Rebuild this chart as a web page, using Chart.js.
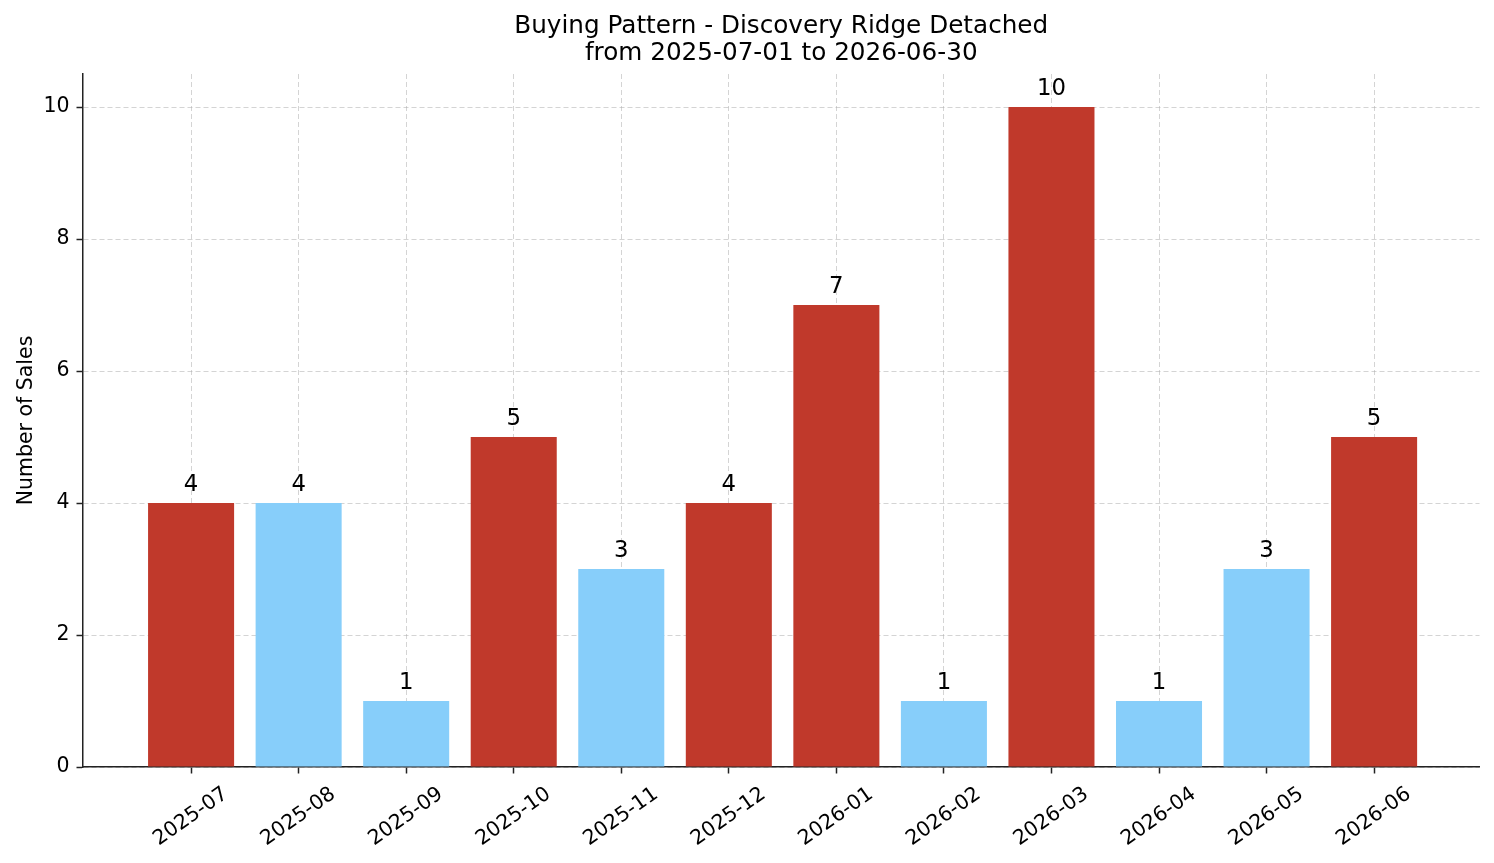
<!DOCTYPE html>
<html>
<head>
<meta charset="utf-8">
<script src="https://cdn.jsdelivr.net/npm/chart.js@4.4.1/dist/chart.umd.min.js"></script>
<style>
  html, body { margin: 0; padding: 0; background: #ffffff; }
  canvas { display: block; }
</style>
</head>
<body>
<canvas id="chart" width="1494" height="863"></canvas>
<script>
// ---- data ----
const categories = ['2025-07', '2025-08', '2025-09', '2025-10', '2025-11', '2025-12',
                    '2026-01', '2026-02', '2026-03', '2026-04', '2026-05', '2026-06'];
const sales = [4, 4, 1, 5, 3, 4, 7, 1, 10, 1, 3, 5];
const highlighted = [true, false, false, true, false, true, true, false, true, false, false, true];
const yTicks = [0, 2, 4, 6, 8, 10];
const titleLines = ['Buying Pattern - Discovery Ridge Detached', 'from 2025-07-01 to 2026-06-30'];
const yAxisLabel = 'Number of Sales';

// ---- styles ----
const FONT = "'DejaVu Sans', 'Liberation Sans', sans-serif";
const RED = '#c0392b';
const BLUE = '#87cefa';
const GRID = 'rgba(176,176,176,0.55)';
const AXIS = '#222222';
const TICK_SIZE = 20.5;
const VALUE_SIZE = 22.8;
const TITLE_SIZE = 24.7;
const YLABEL_SIZE = 20.5;

const textPlugin = {
  id: 'mplText',
  afterDraw(chart) {
    const ctx = chart.ctx;
    const area = chart.chartArea;
    const xs = chart.scales.x;
    ctx.save();
    ctx.fillStyle = '#000000';

    // title
    ctx.font = `${TITLE_SIZE}px ${FONT}`;
    ctx.textAlign = 'center';
    ctx.textBaseline = 'alphabetic';
    const cx = (area.left + area.right) / 2;
    ctx.fillText(titleLines[0], cx, 33);
    ctx.fillText(titleLines[1], cx, 60);

    // y axis label
    ctx.save();
    ctx.translate(31.5, (area.top + area.bottom) / 2);
    ctx.rotate(-Math.PI / 2);
    ctx.font = `${YLABEL_SIZE}px ${FONT}`;
    ctx.textAlign = 'center';
    ctx.textBaseline = 'alphabetic';
    ctx.fillText(yAxisLabel, 0, 0);
    ctx.restore();

    // x tick labels (rotated 35 deg, centred under tick)
    ctx.font = `${TICK_SIZE}px ${FONT}`;
    categories.forEach((lab, i) => {
      const px = xs.getPixelForValue(i);
      ctx.save();
      ctx.translate(px - 1.5, 815);
      ctx.rotate(-35 * Math.PI / 180);
      ctx.textAlign = 'center';
      ctx.textBaseline = 'alphabetic';
      ctx.fillText(lab, 0, 0.365 * TICK_SIZE);
      ctx.restore();
    });

    // value labels above bars
    const meta = chart.getDatasetMeta(0);
    ctx.font = `${VALUE_SIZE}px ${FONT}`;
    ctx.textAlign = 'center';
    ctx.textBaseline = 'alphabetic';
    meta.data.forEach((bar, i) => {
      ctx.fillText(String(sales[i]), bar.x, bar.y - 12);
    });
    ctx.restore();
  }
};

new Chart(document.getElementById('chart'), {
  type: 'bar',
  data: {
    datasets: [{
      data: sales.map((v, i) => ({ x: i, y: v })),
      backgroundColor: highlighted.map(h => h ? RED : BLUE),
      borderWidth: 0,
      barPercentage: 0.8,
      categoryPercentage: 1.0
    }]
  },
  options: {
    responsive: false,
    animation: false,
    devicePixelRatio: 1,
    layout: { padding: { left: 0, right: 14.5, top: 74, bottom: 0 } },
    plugins: {
      legend: { display: false },
      tooltip: { enabled: false },
      title: { display: false }
    },
    scales: {
      x: {
        type: 'linear',
        min: -1.005,
        max: 11.98,
        offset: false,
        z: 1,
        afterBuildTicks: s => { s.ticks = categories.map((_, i) => ({ value: i })); },
        afterFit: s => { s.height = 96; },
        ticks: { display: false },
        grid: {
          offset: false,
          color: GRID,
          lineWidth: 1,
          drawTicks: true,
          tickLength: 6.5,
          tickColor: AXIS,
          tickWidth: 1.5
        },
        border: { display: true, color: AXIS, width: 1.5, dash: [5, 3] }
      },
      y: {
        min: 0,
        max: 10.5,
        z: 1,
        afterBuildTicks: s => { s.ticks = yTicks.map(v => ({ value: v })); },
        afterFit: s => { s.width = 83; },
        ticks: {
          font: { family: FONT, size: TICK_SIZE },
          color: '#000000',
          padding: 7,
          callback: v => String(v)
        },
        grid: {
          color: GRID,
          lineWidth: 1,
          drawTicks: true,
          tickLength: 6.5,
          tickColor: AXIS,
          tickWidth: 1.5
        },
        border: { display: true, color: AXIS, width: 1.5, dash: [5, 3] }
      }
    }
  },
  plugins: [textPlugin]
});
</script>
</body>
</html>
